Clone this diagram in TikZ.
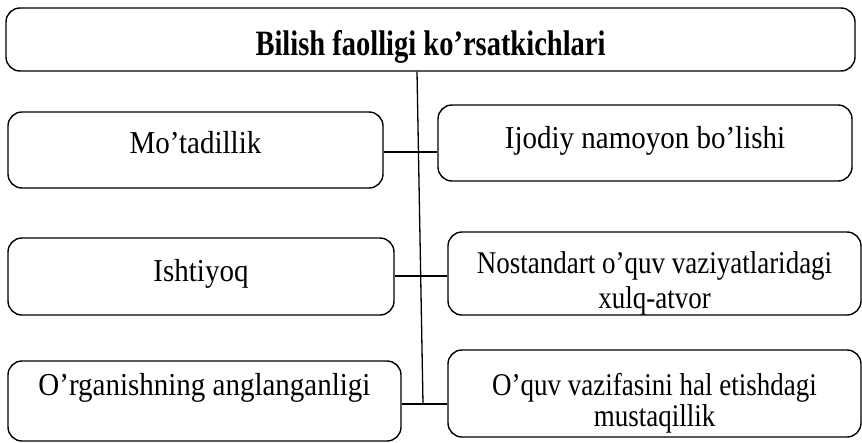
\documentclass[tikz,border=0pt]{standalone}
\usepackage{fontspec}
\usepackage{graphicx}
\setmainfont{Liberation Serif}
\newcommand{\bigtxt}[1]{\scalebox{1}[1.1]{\fontsize{29}{30}\selectfont #1}}
\newcommand{\smalltxt}[2]{\scalebox{1}[1.17]{\fontsize{27}{26}\selectfont\begin{tabular}[t]{@{}c@{}}#1\\[#2]\end{tabular}}}
\begin{document}
\begin{tikzpicture}[x=1pt,y=-1pt,
  box/.style={draw,rounded corners=14pt,line width=1.4pt,inner sep=0pt,align=center},
  link/.style={line width=1.3pt}]
\useasboundingbox (0,0) rectangle (862,442);
\node[box,minimum width=849pt,minimum height=63pt,text height=31pt,text depth=0pt] (top) at (430.5,39.5)
  {\scalebox{1}[1.25]{\bfseries\fontsize{28.5}{30}\selectfont Bilish faolligi ko’rsatkichlari}};
\node[box,minimum width=375pt,minimum height=76pt,text height=6pt,text depth=0pt] (l1) at (195.5,150) {\bigtxt{Mo’tadillik}};
\node[box,minimum width=414pt,minimum height=76pt,text height=10pt,text depth=0pt] (r1) at (645,143) {\bigtxt{Ijodiy namoyon bo’lishi}};
\node[box,minimum width=386pt,minimum height=77pt,text height=9pt,text depth=0pt] (l2) at (201,276.5) {\bigtxt{Ishtiyoq}};
\node[box,minimum width=413pt,minimum height=83pt,text height=0pt,text depth=1pt] (r2) at (654.5,273.5)
  {\smalltxt{Nostandart o’quv vaziyatlaridagi\\[3.5pt]xulq-atvor}{0pt}};
\node[box,minimum width=393pt,minimum height=80pt,text height=0pt,text depth=12pt] (l3) at (204.5,401) {\bigtxt{O’rganishning anglanganligi}};
\node[box,minimum width=413pt,minimum height=87pt,text height=4.4pt,text depth=0pt] (r3) at (654.5,393.5)
  {\smalltxt{O’quv vazifasini hal etishdagi\\mustaqillik}{0pt}};
\coordinate (tt) at (417,71);
\coordinate (j1) at (418,152);
\coordinate (j2) at (420,276);
\coordinate (j3) at (423,404);
\draw[link] (top.south -| tt) -- (j3);
\draw[link] (l1.east |- j1) -- (r1.west |- j1);
\draw[link] (l2.east |- j2) -- (r2.west |- j2);
\draw[line width=2pt] (l3.east |- j3) -- (r3.west |- j3);
\end{tikzpicture}
\end{document}
